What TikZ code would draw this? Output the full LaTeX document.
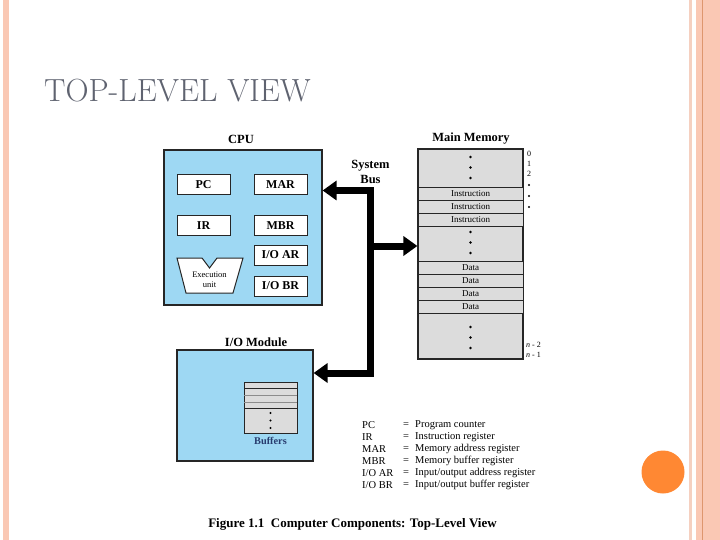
\documentclass[tikz,border=0pt]{standalone}
\usepackage{fontspec}
\newfontfamily\timesf{Liberation Serif}
\usetikzlibrary{arrows.meta,positioning}
\definecolor{cpublue}{RGB}{158,216,243}
\definecolor{memgray}{RGB}{220,220,220}
\definecolor{slidepink}{RGB}{250,200,180}
\definecolor{slidelight}{RGB}{245,208,192}
\definecolor{slideline}{RGB}{222,150,110}
\definecolor{slideorange}{RGB}{255,136,51}
\definecolor{titlegray}{RGB}{95,99,112}
\definecolor{bufblue}{RGB}{40,60,110}
\tikzset{
  unitbox/.style={draw=black!85, line width=1.2pt, fill=cpublue, inner sep=0pt},
  regbox/.style={draw=black!85, line width=1pt, fill=white, minimum width=53pt, minimum height=20pt, inner sep=0pt, font=\timesf\bfseries\fontsize{12}{14}\selectfont},
  memrow/.style={draw=black!85, line width=0.9pt, fill=memgray, minimum width=105pt, minimum height=13pt, inner sep=0pt, font=\timesf\fontsize{9}{10}\selectfont},
  heading/.style={font=\timesf\bfseries\fontsize{12.5}{14}\selectfont, inner sep=0pt},
  addr/.style={font=\timesf\fontsize{8}{9}\selectfont, anchor=west, inner sep=0pt},
  legend/.style={font=\timesf\fontsize{10.5}{12}\selectfont, anchor=west, inner sep=0pt},
  bus/.style={line width=7pt, black, line join=miter},
  bushead/.tip={Triangle[length=14pt,width=19pt]},
}
\begin{document}
\begin{tikzpicture}[x=1pt,y=-1pt]
%slide
\fill[white] (0,0) rectangle (720,540);
\useasboundingbox (0,0) rectangle (720,540);
\fill[slidepink] (3,0) rectangle (9,540);
\fill[slidelight] (689,0) rectangle (692,540);
\fill[slidepink] (696,0) rectangle (720,540);
\draw[slideline, line width=1pt] (702.5,0) -- (702.5,540);
\fill[slideorange] (663,472) circle [radius=21.5];
\node[font=\fontsize{32}{36}\selectfont, text=titlegray, anchor=west, inner sep=0pt] (title) at (44,91) {TOP-LEVEL VIEW};
%cpu
\node[unitbox, minimum width=158pt, minimum height=155pt] (cpu) at (243,227.5) {};
\node[heading] (cpulabel) at (241,139) {CPU};
\node[regbox] (pc) at (203.5,185) {PC};
\node[regbox] (mar) at (280.5,185) {MAR};
\node[regbox] (ir) at (203.5,225.5) {IR};
\node[regbox] (mbr) at (280.5,225.5) {MBR};
\node[regbox] (ioar) at (280.5,255) {I/O AR};
\node[regbox] (iobr) at (280.5,286) {I/O BR};
\filldraw[draw=black!85, line width=1pt, fill=white] (177,258) -- (202,258) -- (209.5,268) -- (217,258) -- (243,258) -- (233,293) -- (186,293) -- cycle;
\node[font=\timesf\fontsize{8.5}{9}\selectfont, inner sep=0pt] (exec) at (209.5,275) {Execution};
\node[font=\timesf\fontsize{8.5}{9}\selectfont, inner sep=0pt] (unit) at (209.5,285) {unit};
%memory
\node[memrow, line width=1.2pt, minimum height=210pt] (mem) at (470.5,254) {};
\node[heading] (memlabel) at (471,139) {Main Memory};
\foreach \i/\y in {1/193.5,2/206.5,3/219.5}
  \node[memrow] (ins\i) at (470.5,\y) {Instruction};
\foreach \i/\y in {1/267.5,2/280.5,3/293.5,4/306.5}
  \node[memrow] (dat\i) at (470.5,\y) {Data};
\draw[black!85, line width=1.2pt] (mem.north west) rectangle (mem.south east);
\foreach \y in {157,167.5,178,232,242.5,253,327,337.5,348}
  \fill (470.5,\y) circle [radius=1.3];
\node[addr] (a0) at (527,154) {0};
\node[addr] (a1) at (527,164) {1};
\node[addr] (a2) at (527,174) {2};
\foreach \y in {185,196,207}
  \fill (529,\y) circle [radius=1.1];
\node[addr] (an2) at (526,345) {\textit{n} - 2};
\node[addr] (an1) at (526,355) {\textit{n} - 1};
%io module
\node[unitbox, minimum width=136pt, minimum height=111pt] (io) at (245,405.5) {};
\node[heading] (iolabel) at (256,342) {I/O Module};
\filldraw[draw=black!85, line width=0.9pt, fill=memgray] (244,382) rectangle (297,433);
\draw[black!85, line width=0.9pt] (244,388) -- (297,388);
\draw[black!45, line width=0.7pt] (244,395) -- (297,395) (244,402) -- (297,402);
\draw[black!85, line width=0.9pt] (244,408) -- (297,408);
\foreach \y in {413,420.5,428}
  \fill (270.5,\y) circle [radius=1.2];
\node[heading, text=bufblue, font=\timesf\bfseries\fontsize{10.3}{11}\selectfont] (buflabel) at (270.5,441) {Buffers};
%bus
\node[heading, align=center, font=\timesf\bfseries\fontsize{12.5}{15}\selectfont] (buslabel) at (370.5,171.5) {System\\Bus};
\coordinate (b1) at (370.5,190.5);
\coordinate (b2) at (370.5,373);
\coordinate (b3) at (370.5,246);
\draw[bus, bushead-bushead] (cpu.east |- b1) -- (b1) -- (b2) -- (io.east |- b2);
\draw[bus, -bushead] (b3) -- (mem.west |- b3);
%legend
\foreach \k/\a/\d in {0/PC/Program counter,1/IR/Instruction register,2/MAR/Memory address register,3/MBR/Memory buffer register,4/{I/O AR}/{Input/output address register},5/{I/O BR}/{Input/output buffer register}}{
  \node[legend] (ab\k) at (362,425+12*\k) {\a};
  \node[legend] (eq\k) at (403,425+12*\k) {=};
  \node[legend] (de\k) at (415,425+12*\k) {\d};
}
\node[font=\timesf\bfseries\fontsize{13}{15}\selectfont, inner sep=0pt] (caption) at (352.5,524) {Figure 1.1\ \ Computer Components: Top-Level View};
\end{tikzpicture}
\end{document}
